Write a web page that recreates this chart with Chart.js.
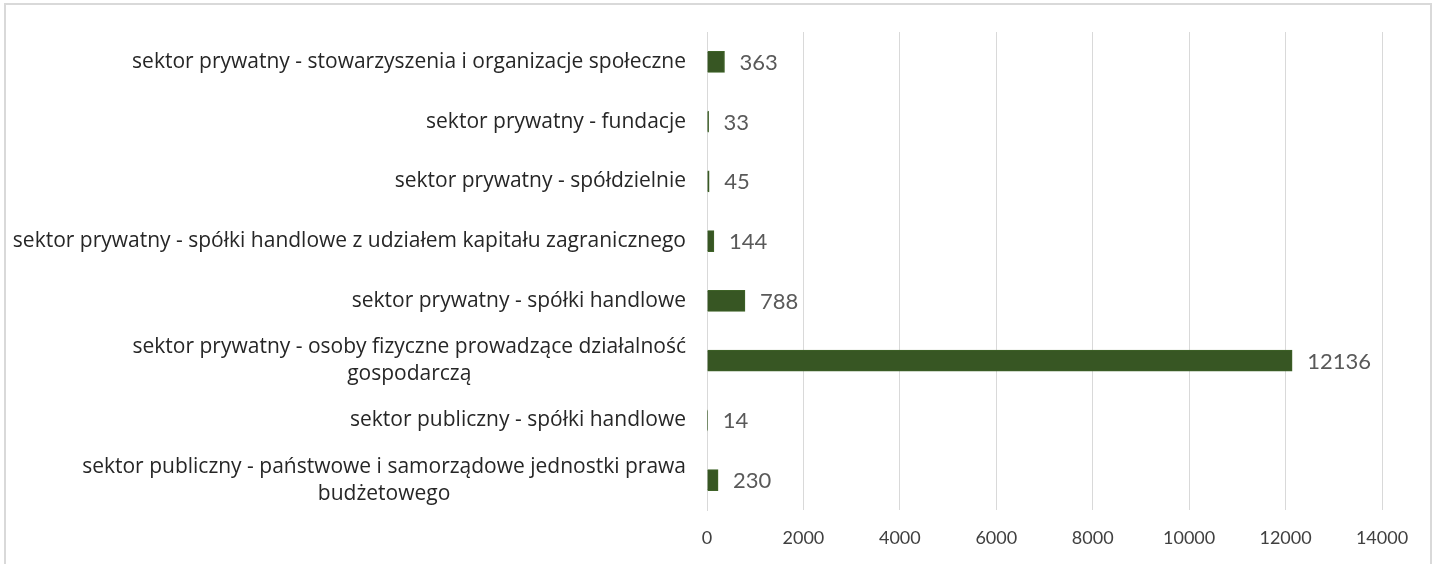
<!DOCTYPE html>
<html>
<head>
<meta charset="utf-8">
<script src="https://cdn.jsdelivr.net/npm/chart.js@4.4.1/dist/chart.umd.min.js"></script>
<style>
  html, body { margin: 0; padding: 0; background: #fff; overflow: hidden; }
  #frame { position: absolute; left: 4px; top: 3px; width: 1424px; height: 600px; border: 2px solid #d9d9d9; }
  #wrap { position: absolute; left: 0; top: 0; width: 1435px; height: 564px; }
</style>
</head>
<body>
<div id="frame"></div>
<div id="wrap"><canvas id="c" width="1435" height="564"></canvas></div>
<script>
const categories = [
  ['sektor prywatny - stowarzyszenia i organizacje społeczne'],
  ['sektor prywatny - fundacje'],
  ['sektor prywatny - spółdzielnie'],
  ['sektor prywatny - spółki handlowe z udziałem kapitału zagranicznego'],
  ['sektor prywatny - spółki handlowe'],
  ['sektor prywatny - osoby fizyczne prowadzące działalność', 'gospodarczą'],
  ['sektor publiczny - spółki handlowe'],
  ['sektor publiczny - państwowe i samorządowe jednostki prawa', 'budżetowego']
];
const values = [363, 33, 45, 144, 788, 12136, 14, 230];
const xTicks = [0, 2000, 4000, 6000, 8000, 10000, 12000, 14000];

const FONT = 'Lato, "Open Sans", sans-serif';
const CAT_FONT = '"Open Sans", Lato, sans-serif';

const catLabelPlugin = {
  id: 'catLabels',
  afterDraw(chart) {
    const ctx = chart.ctx;
    const y = chart.scales.y;
    const xRight = chart.chartArea.left - 21;
    ctx.save();
    ctx.font = '21px ' + CAT_FONT;
    ctx.fillStyle = '#262626';
    ctx.textBaseline = 'middle';
    ctx.textAlign = 'center';
    const lh = 27;
    categories.forEach((lines, i) => {
      const cy = y.getPixelForValue(i);
      const w = Math.max(...lines.map(l => ctx.measureText(l).width));
      const cx = xRight - w / 2;
      const y0 = cy - (lines.length - 1) * lh / 2;
      lines.forEach((l, j) => ctx.fillText(l, cx, y0 + j * lh));
    });
    ctx.restore();
  }
};

const valueLabelPlugin = {
  id: 'valueLabels',
  afterDatasetsDraw(chart) {
    const ctx = chart.ctx;
    const meta = chart.getDatasetMeta(0);
    ctx.save();
    ctx.font = '22px ' + FONT;
    ctx.fillStyle = '#595959';
    ctx.textBaseline = 'middle';
    ctx.textAlign = 'left';
    meta.data.forEach((bar, i) => {
      ctx.fillText(String(values[i]), bar.x + 15, bar.y + 1);
    });
    ctx.restore();
  }
};

new Chart(document.getElementById('c'), {
  type: 'bar',
  data: {
    labels: categories.map(l => l.join(' ')),
    datasets: [{
      data: values,
      backgroundColor: '#375623',
      borderColor: '#3f6328',
      borderWidth: 1,
      barThickness: 21
    }]
  },
  options: {
    indexAxis: 'y',
    responsive: false,
    animation: false,
    events: [],
    layout: { padding: { left: 0, right: 53, top: 32, bottom: 0 } },
    plugins: { legend: { display: false }, tooltip: { enabled: false }, title: { display: false } },
    scales: {
      x: {
        min: 0, max: 14000,
        afterBuildTicks(scale) { scale.ticks = xTicks.map(v => ({ value: v })); },
        afterFit(scale) { scale.height = 54; },
        grid: { color: '#d9d9d9', lineWidth: 1, drawTicks: false },
        border: { display: false },
        ticks: { color: '#404040', font: { family: FONT, size: 18 }, padding: 17, callback: v => String(v) }
      },
      y: {
        afterFit(scale) { scale.width = 707; },
        grid: { display: false, drawTicks: false },
        border: { display: true, color: '#d9d9d9', width: 1 },
        ticks: { display: false }
      }
    }
  },
  plugins: [catLabelPlugin, valueLabelPlugin]
});
</script>
</body>
</html>
